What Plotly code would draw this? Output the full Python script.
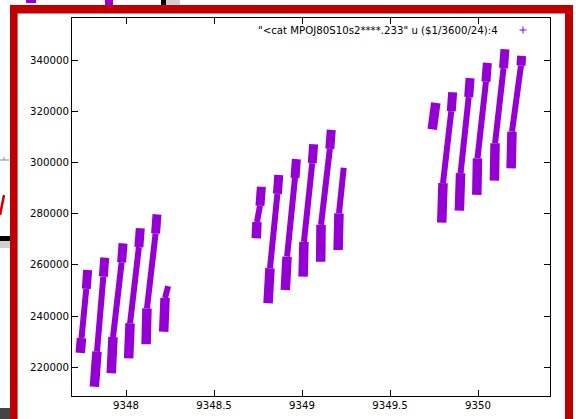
import plotly.graph_objects as go

# ---- data: key points of each streak (x = time in days, y = value) ----
# foot of each streak (lowest point), top of the thick foot, neck below the top blob, peak
low_x  = [9347.740, 9347.820, 9347.916, 9348.015, 9348.114, 9348.214,
          9348.740, 9348.807, 9348.905, 9349.006, 9349.106, 9349.205,
          9349.740, 9349.794, 9349.894, 9349.993, 9350.093, 9350.188]
low_y  = [225600, 212400, 217700, 223500, 229000, 233900,
          270400, 245000, 250200, 255400, 261200, 265800,
          312900, 276500, 281200, 287300, 292900, 297700]
base_x = [9347.747, 9347.835, 9347.926, 9348.023, 9348.119, 9348.222,
          9348.744, 9348.818, 9348.915, 9349.011, 9349.108, 9349.210,
          9349.760, 9349.801, 9349.901, 9349.997, 9350.097, 9350.193]
base_y = [231400, 226100, 231800, 237200, 243000, 247100,
          276700, 258700, 263200, 269000, 275600, 280100,
          323300, 291900, 295800, 301600, 307500, 312000]
neck_x = [9347.774, 9347.871, 9347.975, 9348.073, 9348.168, None,
          9348.761, 9348.860, 9348.960, 9349.058, 9349.158, None,
          None,     9349.848, 9349.947, 9350.045, 9350.145, 9350.244]
neck_y = [250600, 255400, 261000, 266900, 272300, None,
          283100, 287700, 293900, 299700, 305300, None,
          None,   320000, 325500, 331500, 336800, 337800]
peak_x = [9347.782, 9347.879, 9347.983, 9348.081, 9348.176, 9348.239,
          9348.769, 9348.868, 9348.968, 9349.066, 9349.166, 9349.237,
          None,     9349.856, 9349.955, 9350.053, 9350.153, 9350.248]
peak_y = [258000, 262800, 268400, 274300, 279700, 251700,
          290500, 295100, 301300, 307100, 312700, 297900,
          None,   327400, 332900, 338900, 344200, 341600]

x_ticks = [9348, 9348.5, 9349, 9349.5, 9350]
x_tick_text = ["9348", "9348.5", "9349", "9349.5", "9350"]
y_ticks = [220000, 240000, 260000, 280000, 300000, 320000, 340000]
y_tick_text = ["220000", "240000", "260000", "280000", "300000", "320000", "340000"]
key_text = '"<cat MPOJ80S10s2****.233" u ($1/3600/24):4'

PURPLE = "#9400d3"

# ---- build segment lists ----
def segs(ax, ay, bx, by):
    xs, ys = [], []
    for a1, a2, b1, b2 in zip(ax, ay, bx, by):
        if a1 is None or b1 is None:
            continue
        xs += [a1, b1, None]
        ys += [a2, b2, None]
    return xs, ys

rise_end_x = [n if n is not None else p for n, p in zip(neck_x, peak_x)]
rise_end_y = [n if n is not None else p for n, p in zip(neck_y, peak_y)]

foot_x, foot_y = segs(low_x, low_y, base_x, base_y)
rise_x, rise_y = segs(base_x, base_y, rise_end_x, rise_end_y)
top_x, top_y = segs(neck_x, neck_y, peak_x, peak_y)

fig = go.Figure()
fig.add_trace(go.Scatter(x=rise_x, y=rise_y, mode="lines",
                         line=dict(color=PURPLE, width=6), showlegend=False,
                         hoverinfo="skip"))
fig.add_trace(go.Scatter(x=foot_x, y=foot_y, mode="lines",
                         line=dict(color=PURPLE, width=9.5), showlegend=False,
                         hoverinfo="skip"))
fig.add_trace(go.Scatter(x=top_x, y=top_y, mode="lines",
                         line=dict(color=PURPLE, width=9), showlegend=False,
                         hoverinfo="skip"))

# ---- layout geometry (pixels) ----
W, H = 576, 419
L, R, T, B = 72, 26, 18, 23
PW, PH = W - L - R, H - T - B

def px(xp):
    return (xp - L) / PW

def py(yp):
    return (H - B - yp) / PH

shapes = []
def rect(x0, y0, x1, y1, color, layer="below"):
    shapes.append(dict(type="rect", xref="paper", yref="paper",
                       x0=px(x0), x1=px(x1), y0=py(y1), y1=py(y0),
                       line=dict(width=0), fillcolor=color, layer=layer))

def seg(x0, y0, x1, y1, color, w):
    shapes.append(dict(type="line", xref="paper", yref="paper",
                       x0=px(x0), x1=px(x1), y0=py(y0), y1=py(y1),
                       line=dict(color=color, width=w)))

# red frame of the surrounding window
RED = "#c00000"
rect(10, 5, 573, 13.6, RED)
rect(10, 5, 17.6, 419, RED)
rect(565, 5, 573, 419, RED)
# fragments of the background outside the frame
rect(26, 0, 36, 3, PURPLE)
rect(105, 0, 113, 5, PURPLE)
rect(161, 0, 166, 5, "#000000")
rect(166, 0, 180, 5, "#d0d0d0")
seg(0, 160, 9, 160, "#888888", 1)
seg(4, 157, 4, 160, "#888888", 1)
seg(0, 215, 4, 195, "#cc0000", 2.5)
rect(0, 236, 10, 241, "#000000")
rect(0, 241, 10, 248, "#cfcfcf")
rect(0, 408, 10, 419, "#444444")

# key sample '+'
seg(519.5, 30, 526.5, 30, PURPLE, 1)
seg(523, 26.5, 523, 33.5, PURPLE, 1)

FONT = dict(family="DejaVu Sans", size=10.2, color="#000000")

fig.update_layout(
    width=W, height=H,
    margin=dict(l=L, r=R, t=T, b=B, pad=0),
    paper_bgcolor="white", plot_bgcolor="white",
    font=FONT,
    showlegend=False,
    shapes=shapes,
    annotations=[dict(xref="paper", yref="paper", x=px(500), y=py(30),
                      xanchor="right", yanchor="middle", text=key_text,
                      showarrow=False, font=FONT)],
    xaxis=dict(range=[9347.693, 9350.409], tickvals=x_ticks, ticktext=x_tick_text,
               ticks="inside", ticklen=6, tickcolor="#000", showline=True,
               linecolor="#000", linewidth=1, mirror="ticks", showgrid=False,
               zeroline=False, automargin=False, tickfont=FONT),
    yaxis=dict(range=[208792, 356401], tickvals=y_ticks, ticktext=y_tick_text,
               ticks="inside", ticklen=6, tickcolor="#000", showline=True,
               linecolor="#000", linewidth=1, mirror="ticks", showgrid=False,
               zeroline=False, automargin=False, tickfont=FONT),
)

fig.write_html("out.html", config={"displayModeBar": False},
               post_script="document.body.style.margin='0px';document.body.style.overflow='hidden';")
